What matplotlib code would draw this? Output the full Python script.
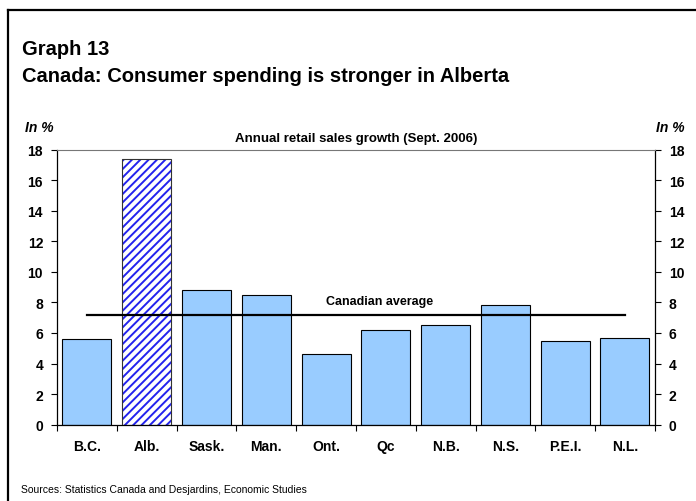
import matplotlib
matplotlib.use("Agg")
import matplotlib.pyplot as plt
from matplotlib.lines import Line2D

plt.rcParams["font.family"] = ["Liberation Sans", "DejaVu Sans"]
plt.rcParams["hatch.linewidth"] = 1.4

# donnees
provinces = ["B.C.", "Alb.", "Sask.", "Man.", "Ont.", "Qc", "N.B.", "N.S.", "P.E.I.", "N.L."]
croissance = [5.6, 17.4, 8.8, 8.5, 4.6, 6.2, 6.5, 7.8, 5.5, 5.7]
moyenne_canada = 7.2
y_ticks = [0, 2, 4, 6, 8, 10, 12, 14, 16, 18]

fig = plt.figure(figsize=(6.96, 5.02), dpi=100)
ax = fig.add_axes([0.0819, 0.152, 0.859, 0.548])

x = list(range(len(provinces)))
couleurs = ["#99CCFF"] * len(provinces)
barres = ax.bar(x, croissance, width=0.82, color=couleurs, edgecolor="black", linewidth=0.8, zorder=2)

# Alberta en hachures bleues
alb = provinces.index("Alb.")
barres[alb].set_facecolor("white")
barres[alb].set_edgecolor("#2222EE")
barres[alb].set_hatch("////")
barres[alb].set_linewidth(0)
ax.bar(x[alb], croissance[alb], width=0.82, fill=False, edgecolor="#333333", linewidth=0.8, zorder=3)

# moyenne canadienne
ax.plot([x[0], x[-1]], [moyenne_canada, moyenne_canada], color="black", linewidth=1.6, zorder=4)
ax.text(4.9, 8.1, "Canadian average", ha="center", va="center", fontsize=9, fontweight="bold")

ax.set_xlim(-0.5, len(provinces) - 0.5)
ax.set_ylim(0, 18)
ax.set_yticks(y_ticks)
ax.set_yticklabels([str(v) for v in y_ticks], fontsize=10, fontweight="bold")
ax.set_xticks([i + 0.5 for i in range(-1, len(provinces))])
ax.set_xticklabels([])
ax.set_xticks(x, minor=True)
ax.set_xticklabels(provinces, minor=True, fontsize=10, fontweight="bold")
ax.tick_params(axis="x", which="major", direction="out", length=4, width=0.8)
ax.tick_params(axis="x", which="minor", length=0, pad=10)
ax.tick_params(axis="y", direction="out", length=4, width=0.8, pad=6,
               right=True, labelright=True)
for lab in ax.get_yticklabels(which="both"):
    lab.set_fontweight("bold")

ax.spines["top"].set_color("#777777")
for s in ["left", "right", "bottom"]:
    ax.spines[s].set_color("black")
    ax.spines[s].set_linewidth(0.9)

ax.set_title("Annual retail sales growth (Sept. 2006)", fontsize=9.5, fontweight="bold", pad=6)

fig.text(0.057, 0.745, "In %", fontsize=10, fontweight="bold", style="italic", ha="center", va="center")
fig.text(0.963, 0.745, "In %", fontsize=10, fontweight="bold", style="italic", ha="center", va="center")

fig.text(0.032, 0.890, "Graph 13", fontsize=14.5, fontweight="bold", va="baseline")
fig.text(0.032, 0.837, "Canada: Consumer spending is stronger in Alberta", fontsize=14.5,
         fontweight="bold", va="baseline")
fig.text(0.030, 0.024, "Sources: Statistics Canada and Desjardins, Economic Studies", fontsize=7.5,
         va="center")

# cadre (haut et gauche)
fig.add_artist(Line2D([0.0115, 1.0], [0.978, 0.978], color="black", linewidth=1.6))
fig.add_artist(Line2D([0.0115, 0.0115], [0.0, 0.978], color="black", linewidth=1.6))

fig.savefig("out.png", dpi=100)
